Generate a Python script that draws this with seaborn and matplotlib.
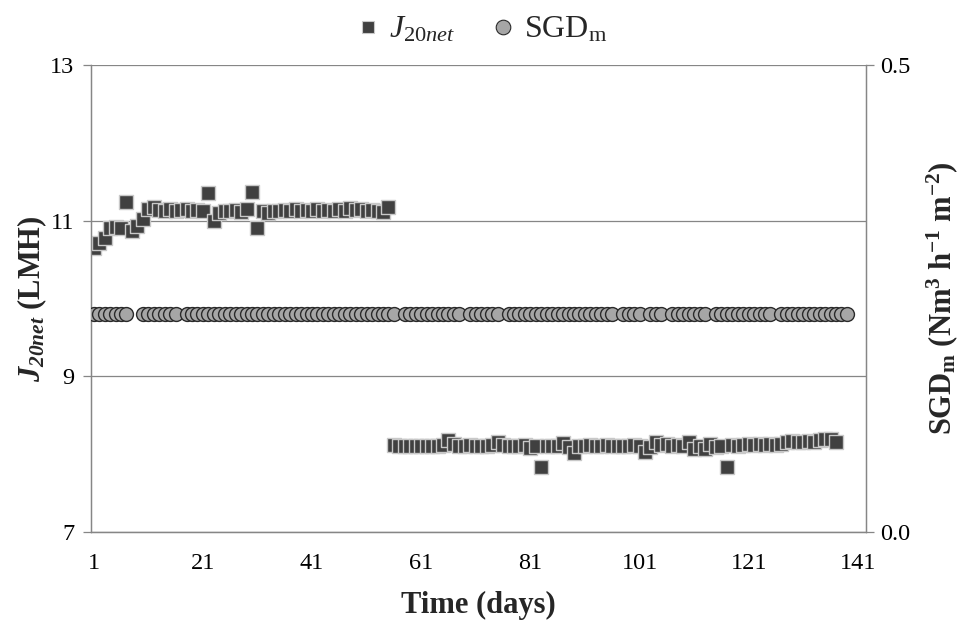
import matplotlib
matplotlib.use("Agg")
import matplotlib.pyplot as plt
from matplotlib.lines import Line2D
import seaborn as sns
import pandas as pd

# ---------------- data ----------------
j_days_a = list(range(1, 56))
j_values_a = [10.65, 10.71, 10.78, 10.91, 10.92, 10.90, 11.24, 10.87, 10.93, 11.02,
              11.15, 11.18, 11.14, 11.13, 11.15, 11.12, 11.14, 11.15, 11.12, 11.14,
              11.13, 11.35, 11.00, 11.10, 11.13, 11.12, 11.14, 11.11, 11.15, 11.37,
              10.90, 11.12, 11.10, 11.13, 11.12, 11.14, 11.13, 11.15, 11.12, 11.14,
              11.13, 11.15, 11.13, 11.14, 11.12, 11.15, 11.13, 11.16, 11.14, 11.15,
              11.13, 11.14, 11.12, 11.11, 11.17]
j_days_b = list(range(56, 138))
j_values_b = [8.12, 8.11, 8.10, 8.11, 8.10, 8.11, 8.11, 8.10, 8.11, 8.12,
              8.18, 8.13, 8.10, 8.11, 8.12, 8.10, 8.11, 8.10, 8.12, 8.15,
              8.12, 8.10, 8.11, 8.10, 8.12, 8.08, 8.10, 7.84, 8.11, 8.10,
              8.11, 8.14, 8.09, 8.02, 8.10, 8.11, 8.12, 8.10, 8.11, 8.12,
              8.10, 8.11, 8.10, 8.11, 8.12, 8.11, 8.03, 8.09, 8.16, 8.12,
              8.13, 8.11, 8.12, 8.11, 8.15, 8.07, 8.10, 8.06, 8.13, 8.09,
              8.11, 7.84, 8.12, 8.11, 8.12, 8.13, 8.12, 8.13, 8.12, 8.13,
              8.12, 8.13, 8.16, 8.17, 8.15, 8.16, 8.17, 8.16, 8.18, 8.20,
              8.19, 8.16]
sgd_days = (list(range(1, 8)) + list(range(10, 17)) + list(range(18, 57)) +
            list(range(58, 69)) + list(range(70, 76)) + list(range(77, 97)) +
            list(range(98, 102)) + list(range(103, 106)) + list(range(107, 114)) +
            list(range(115, 126)) + list(range(127, 140)))
sgd_level = 0.233
sgd_values = [sgd_level] * len(sgd_days)

x_ticks = [1, 21, 41, 61, 81, 101, 121, 141]
y_left_ticks = [7, 9, 11, 13]
y_right_ticks = [0.0, 0.5]
y_right_labels = ["0.0", "0.5"]

# ---------------- style ----------------
sns.set_theme(style="white")
plt.rcParams["font.family"] = ["Liberation Serif", "DejaVu Serif"]
plt.rcParams["mathtext.fontset"] = "custom"
plt.rcParams["mathtext.rm"] = "Liberation Serif"
plt.rcParams["mathtext.it"] = "Liberation Serif:italic"
plt.rcParams["mathtext.bf"] = "Liberation Serif:bold"
plt.rcParams["mathtext.bfit"] = "Liberation Serif:italic:bold"

axis_col = "#868686"
txt_col = "#000000"

df_j = pd.DataFrame({"day": j_days_a + j_days_b, "J": j_values_a + j_values_b})
df_s = pd.DataFrame({"day": sgd_days, "SGD": sgd_values})

fig = plt.figure(figsize=(9.6, 6.24), dpi=100)
ax = fig.add_axes([91 / 960, 1 - 532 / 624, (866 - 91) / 960, (532 - 65) / 624])

sns.scatterplot(data=df_j, x="day", y="J", marker="s", s=105, color="#404040",
                edgecolor="#c8c8c8", linewidth=1.0, ax=ax, zorder=3, legend=False)
ax.set_xlim(0.5, 142.5)
ax.set_ylim(7, 13)
ax.set_yticks(y_left_ticks)
ax.set_xticks(x_ticks)
ax.yaxis.grid(True, color=axis_col, linewidth=0.9)
ax.set_axisbelow(True)

ax2 = ax.twinx()
sns.scatterplot(data=df_s, x="day", y="SGD", marker="o", s=100, color="#a6a6a6",
                edgecolor="#2a2a2a", linewidth=1.0, ax=ax2, zorder=3, legend=False)
ax2.set_ylim(0, 0.5)
ax2.set_yticks(y_right_ticks)
ax2.set_yticklabels(y_right_labels)
ax2.set_xlim(0.5, 142.5)

for a in (ax, ax2):
    for side in ("left", "right", "bottom"):
        a.spines[side].set_color(axis_col)
        a.spines[side].set_linewidth(0.9)
    a.spines["top"].set_visible(False)
    a.tick_params(axis="both", which="both", colors=axis_col, labelcolor=txt_col,
                  labelsize=17.5, length=6, width=0.9, direction="out")
ax.tick_params(axis="y", pad=6)
ax.tick_params(axis="x", pad=9)
ax2.tick_params(axis="y", pad=4)

ax.set_xlabel("Time (days)", fontsize=22, fontweight="bold", labelpad=12)
ax.set_ylabel(r"$\mathbfit{J}_{\mathbfit{20net}}$ (LMH)", fontsize=22,
              fontweight="bold", labelpad=1)
ax2.set_ylabel(r"$\mathbf{SGD_m\ (Nm^3\ h^{-1}\ m^{-2})}$", fontsize=22,
               labelpad=10)

handles = [
    Line2D([], [], linestyle="none", marker="s", markersize=9, markerfacecolor="#404040",
           markeredgecolor="#c8c8c8", markeredgewidth=0.8),
    Line2D([], [], linestyle="none", marker="o", markersize=10.5, markerfacecolor="#a6a6a6",
           markeredgecolor="#2a2a2a", markeredgewidth=0.8),
]
labels = [r"$\mathit{J}_{\mathit{20net}}$", r"SGD$_\mathrm{m}$"]
fig.legend(handles, labels, loc="center", bbox_to_anchor=(483 / 960, 1 - 30 / 624),
           ncol=2, frameon=False, fontsize=23, handlelength=0.6, handletextpad=0.35,
           columnspacing=1.2, borderpad=0.2)

fig.savefig("out.png", dpi=100)
